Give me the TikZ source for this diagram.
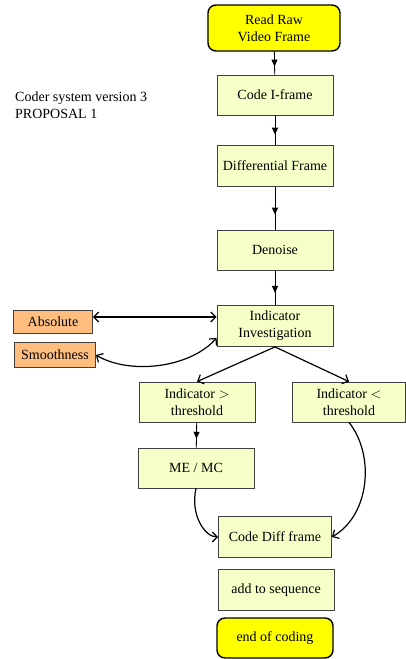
\documentclass[tikz,border=0pt]{standalone}
\usepackage{fontspec}
\setmainfont{Liberation Serif}
\usetikzlibrary{arrows.meta,decorations.markings}
\definecolor{boxfill}{RGB}{245,255,200}
\definecolor{termfill}{RGB}{255,255,0}
\definecolor{optfill}{RGB}{255,190,128}
\begin{document}
\begin{tikzpicture} [x=1pt,y=-1pt,font=\fontsize{14}{17}\selectfont,
        step box/.style={rectangle,draw=black!75,line width=0.8pt,fill=boxfill,minimum width=116pt,minimum height=40pt,inner sep=1pt,align=center},
        term box/.style={rectangle,rounded corners=8pt,draw=black,line width=1.4pt,fill=termfill,minimum width=116pt,minimum height=40pt,align=center},
        opt box/.style={rectangle,draw=black!75,line width=0.8pt,fill=optfill,minimum height=23pt,inner sep=2pt},
        mid arrow/.style={line width=0.8pt,postaction={decorate},decoration={markings,mark=at position 0.65 with {\arrow{Triangle[width=6pt,length=7pt]}}}},
        open arrow/.style={line width=1.2pt,{Straight Barb[length=5pt,width=10pt]}-{Straight Barb[length=5pt,width=10pt]}},
        flow arrow/.style={line width=1.2pt,-{Straight Barb[length=5pt,width=10pt]}}]
    \useasboundingbox (0,0) rectangle (406,659);
    \node[term box,minimum width=132pt,minimum height=46pt] (read) at (274,28) {Read Raw\\Video Frame};
    \node[step box] (iframe) at (275,95) {Code I-frame};
    \node[step box,minimum height=41pt] (diff) at (275,166) {Differential Frame};
    \node[step box] (denoise) at (275,250) {Denoise};
    \node[step box,minimum height=41pt] (invest) at (275,326) {Indicator\\Investigation};
    \node[opt box,minimum width=79pt] (abs) at (53,322) {Absolute};
    \node[opt box,minimum width=81pt,minimum height=25pt] (smooth) at (55,355) {Smoothness};
    \node[step box] (above) at (197,402) {Indicator $>$\\threshold};
    \node[step box,minimum width=113pt] (below) at (349,402) {Indicator $<$\\threshold};
    \node[step box] (memc) at (196,468) {ME / MC};
    \node[step box,minimum width=113pt,minimum height=41pt] (codediff) at (275,537) {Code Diff frame};
    \node[step box,minimum height=41pt] (seq) at (276,590) {add to sequence};
    \node[term box] (end) at (275,638) {end of coding};
    \node[align=left,anchor=north west,inner sep=0pt] (title) at (15,92) {Coder system version 3\\PROPOSAL 1};
    \foreach \from/\to in {read/iframe, iframe/diff, diff/denoise, denoise/invest, above/memc}
        \draw [mid arrow] (\from) -- (\to);
    \draw [open arrow] (abs.east |- 0,317) -- (invest.west |- 0,317);
    \draw [open arrow] (smooth.east) .. controls (130,375) and (190,368) .. ([yshift=9pt]invest.south west);
    \draw [flow arrow] (invest.south) -- (above.north);
    \draw [flow arrow] (invest.south) -- (below.north);
    \draw [flow arrow] (memc.south) .. controls (190,515) and (205,537) .. (codediff.west);
    \draw [flow arrow] (below.south) .. controls (375,455) and (370,515) .. (codediff.east);
    \end{tikzpicture}
\end{document}
